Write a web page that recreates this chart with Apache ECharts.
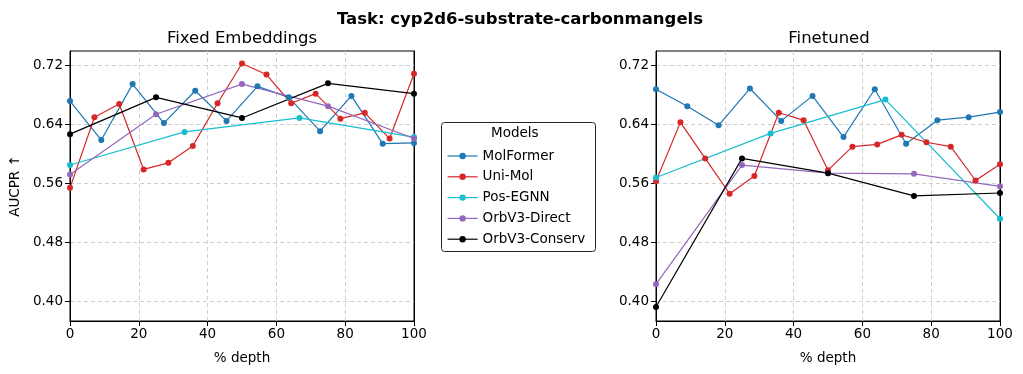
<!DOCTYPE html>
<html>
<head>
<meta charset="utf-8">
<script src="https://cdn.jsdelivr.net/npm/echarts@6/dist/echarts.min.js"></script>
<style>
  html, body { margin: 0; padding: 0; background: #fff; }
  #chart { width: 1023px; height: 374px; }
</style>
</head>
<body>
<div id="chart"></div>
<script>
  // series names / colours
  var modelNames = ['MolFormer', 'Uni-Mol', 'Pos-EGNN', 'OrbV3-Direct', 'OrbV3-Conserv'];
  var modelColors = ['#1f77b4', '#d62728', '#17becf', '#9467bd', '#000000'];

  // x positions (% depth) for each model
  var molformerX = [0, 9.1, 18.2, 27.3, 36.4, 45.5, 54.5, 63.6, 72.7, 81.8, 90.9, 100];
  var unimolX = [0, 7.1, 14.3, 21.4, 28.6, 35.7, 42.9, 50, 57.1, 64.3, 71.4, 78.6, 85.7, 92.9, 100];
  var posegnnX = [0, 33.3, 66.7, 100];
  var orbDirectX = [0, 25, 50, 75, 100];
  var orbConservX = [0, 25, 50, 75, 100];

  // Fixed Embeddings
  var fixedMolformer = [0.672, 0.619, 0.695, 0.642, 0.686, 0.645, 0.692, 0.677, 0.631, 0.679, 0.614, 0.615];
  var fixedUnimol = [0.554, 0.650, 0.668, 0.579, 0.588, 0.611, 0.669, 0.723, 0.708, 0.669, 0.682, 0.648, 0.656, 0.621, 0.709];
  var fixedPosegnn = [0.585, 0.630, 0.649, 0.623];
  var fixedOrbDirect = [0.572, 0.654, 0.695, 0.665, 0.621];
  var fixedOrbConserv = [0.627, 0.677, 0.649, 0.696, 0.682];

  // Finetuned
  var ftMolformer = [0.688, 0.665, 0.639, 0.689, 0.645, 0.679, 0.623, 0.688, 0.614, 0.646, 0.650, 0.657];
  var ftUnimol = [0.563, 0.643, 0.594, 0.546, 0.570, 0.656, 0.646, 0.578, 0.610, 0.613, 0.626, 0.616, 0.610, 0.564, 0.586];
  var ftPosegnn = [0.568, 0.628, 0.674, 0.512];
  var ftOrbDirect = [0.423, 0.585, 0.574, 0.573, 0.556];
  var ftOrbConserv = [0.392, 0.594, 0.574, 0.543, 0.547];

  var yTicks = [0.40, 0.48, 0.56, 0.64, 0.72];

  var fontFam = 'DejaVu Sans';
  var xsList = [molformerX, unimolX, posegnnX, orbDirectX, orbConservX];
  var panels = [
    [fixedMolformer, fixedUnimol, fixedPosegnn, fixedOrbDirect, fixedOrbConserv],
    [ftMolformer, ftUnimol, ftPosegnn, ftOrbDirect, ftOrbConserv]
  ];

  function pairs(xs, ys) {
    return ys.map(function (v, i) { return [xs[i], v]; });
  }

  function makeX(idx) {
    return {
      type: 'value', gridIndex: idx, min: 0, max: 100, interval: 20,
      name: '% depth', nameLocation: 'middle', nameGap: 30,
      nameTextStyle: { fontFamily: fontFam, fontSize: 13.5, color: '#000' },
      axisLine: { show: true, onZero: false, lineStyle: { color: '#000', width: 1 } },
      axisTick: { show: true, length: 5, lineStyle: { color: '#000' } },
      axisLabel: { fontFamily: fontFam, fontSize: 13.5, color: '#000', margin: 6 },
      splitLine: { show: true, lineStyle: { color: '#d0d0d0', type: [4, 3] } }
    };
  }

  function makeY(idx) {
    var ax = {
      type: 'value', gridIndex: idx, min: 0.373, max: 0.740,
      axisLine: { show: true, lineStyle: { color: '#000', width: 1 } },
      axisTick: { show: true, length: 5, customValues: yTicks, lineStyle: { color: '#000' } },
      axisLabel: {
        fontFamily: fontFam, fontSize: 13.5, color: '#000', margin: 7,
        customValues: yTicks,
        formatter: function (v) { return v.toFixed(2); }
      },
      splitLine: { show: true, lineStyle: { color: '#d0d0d0', type: [4, 3] } }
    };
    if (idx === 0) {
      ax.name = 'AUCPR \u2191';
      ax.nameLocation = 'middle';
      ax.nameGap = 48;
      ax.nameTextStyle = { fontFamily: fontFam, fontSize: 13.5, color: '#000' };
    }
    return ax;
  }

  // right-hand frame edge, drawn over the last dashed grid line
  function frameRight(idx) {
    return {
      type: 'value', gridIndex: idx, position: 'right', min: 0.373, max: 0.740,
      axisLine: { show: true, onZero: false, lineStyle: { color: '#000', width: 1 } },
      axisTick: { show: false }, axisLabel: { show: false }, splitLine: { show: false }
    };
  }

  var series = [];
  panels.forEach(function (panel, p) {
    panel.forEach(function (ys, k) {
      series.push({
        name: modelNames[k],
        type: 'line',
        xAxisIndex: p, yAxisIndex: p,
        data: pairs(xsList[k], ys),
        symbol: 'circle', symbolSize: 6,
        showAllSymbol: true,
        color: modelColors[k],
        lineStyle: { width: 1.2, color: modelColors[k] },
        itemStyle: { color: modelColors[k] },
        animation: false
      });
    });
  });

  var chart = echarts.init(document.getElementById('chart'), null, { renderer: 'canvas' });
  chart.setOption({
    backgroundColor: '#fff',
    animation: false,
    title: [
      { text: 'Task: cyp2d6-substrate-carbonmangels', left: 515, top: 6, textAlign: 'center',
        textStyle: { fontFamily: fontFam, fontSize: 16.5, fontWeight: 'bold', color: '#000' } },
      { text: 'Fixed Embeddings', left: 237, top: 25, textAlign: 'center',
        textStyle: { fontFamily: fontFam, fontSize: 16.5, fontWeight: 'normal', color: '#000' } },
      { text: 'Finetuned', left: 824, top: 25, textAlign: 'center',
        textStyle: { fontFamily: fontFam, fontSize: 16.5, fontWeight: 'normal', color: '#000' } }
    ],
    grid: [
      { left: 70, top: 51, width: 344, height: 270, show: true, borderColor: '#000', borderWidth: 1, backgroundColor: 'transparent' },
      { left: 656, top: 51, width: 344, height: 270, show: true, borderColor: '#000', borderWidth: 1, backgroundColor: 'transparent' }
    ],
    xAxis: [makeX(0), makeX(1)],
    yAxis: [makeY(0), makeY(1), frameRight(0), frameRight(1)],
    graphic: [
      { type: 'rect', left: 441, top: 122, z: 0,
        shape: { width: 154, height: 129, r: 3 },
        style: { fill: '#fff', stroke: '#222', lineWidth: 1 } },
      { type: 'text', left: 491, top: 126, z: 1,
        style: { text: 'Models', fontFamily: fontFam, fontSize: 13.5, fill: '#000' } }
    ],
    legend: {
      orient: 'vertical', left: 447, top: 149, padding: 0,
      itemWidth: 30, itemHeight: 8, itemGap: 6.8,
      data: modelNames,
      lineStyle: { width: 1.2 },
      textStyle: { fontFamily: fontFam, fontSize: 13.5, color: '#000' },
      z: 5
    },
    series: series
  });
</script>
</body>
</html>
